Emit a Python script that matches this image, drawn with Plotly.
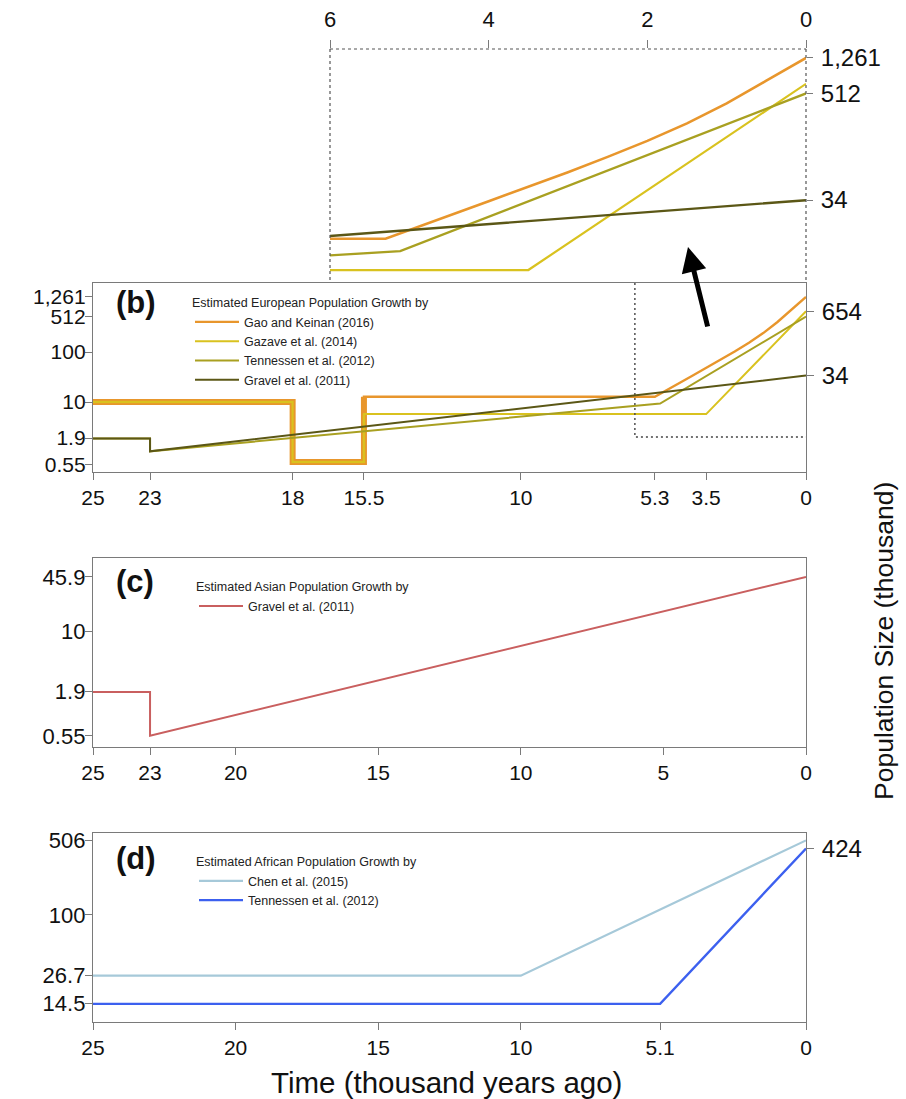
import plotly.graph_objects as go

W, H = 906, 1099
FONT = "Liberation Sans, Arial, sans-serif"

# ---------------- data (time in thousand years ago, size in thousand) -------------
# (b) European
T_GAO = [25, 18, 18, 15.5, 15.5, 5.3, 4, 3, 2.5, 2, 1.5, 1, 0.5, 0]
N_GAO = [10, 10, 0.63, 0.63, 12.7, 12.7, 33, 69, 102, 153, 239, 398, 708, 1261]
T_GAZ = [25, 18, 18, 15.5, 15.5, 3.5, 0]
N_GAZ = [10, 10, 0.63, 0.63, 5.73, 5.73, 654]
T_TEN_EU = [25, 23, 23, 5.115, 0]
N_TEN_EU = [1.861, 1.861, 1.032, 9.279, 512]
T_GRV_EU = [25, 23, 23, 0]
N_GRV_EU = [1.861, 1.861, 1.032, 33.8]
# (c) Asian
T_GRV_AS = [25, 23, 23, 0]
N_GRV_AS = [1.861, 1.861, 0.554, 45.9]
# (d) African
T_CHEN = [25, 10, 0]
N_CHEN = [26.7, 26.7, 506]
T_TEN_AF = [25, 5.115, 0]
N_TEN_AF = [14.474, 14.474, 424]

# tick labels
B_XTICKS = [25, 23, 18, 15.5, 10, 5.3, 3.5, 0]
B_XTEXT = ["25", "23", "18", "15.5", "10", "5.3", "3.5", "0"]
B_YTICKS = [1261, 512, 100, 10, 1.9, 0.55]
B_YTEXT = ["1,261", "512", "100", "10", "1.9", "0.55"]
B_YRIGHT = [654, 34]
B_YRIGHT_TEXT = ["654", "34"]
INSET_XTICKS = [6, 4, 2, 0]
INSET_YTICKS = [1261, 512, 34]
INSET_YTEXT = ["1,261", "512", "34"]
C_XTICKS = [25, 23, 20, 15, 10, 5, 0]
C_YTICKS = [45.9, 10, 1.9, 0.55]
C_YTEXT = ["45.9", "10", "1.9", "0.55"]
D_XTICKS = [25, 20, 15, 10, 5.115, 0]
D_XTEXT = ["25", "20", "15", "10", "5.1", "0"]
D_YTICKS = [506, 100, 26.7, 14.5]
D_YTEXT = ["506", "100", "26.7", "14.5"]
D_YRIGHT = [424]
D_YRIGHT_TEXT = ["424"]
ZOOM_BOX_T = [6, 6, 0]
ZOOM_BOX_N = [10 ** 3.38, 2, 2]

C_GAO = "#e8962c"
C_GAZ = "#d9c21f"
C_TEN = "#a9a021"
C_GRV = "#5b5716"
C_ASIA = "#c95f5f"
C_CHEN = "#a6c9d9"
C_TENAF = "#3c60ef"


def px(x):
    return x / W


def py(y):
    return 1 - y / H


fig = go.Figure()


def line(x, y, color, width, name=None, xa="x", ya="y", legend=None, show=False):
    fig.add_trace(go.Scatter(
        x=x, y=y, mode="lines", name=name, xaxis=xa, yaxis=ya,
        line=dict(color=color, width=width), showlegend=show,
        legend=legend, hoverinfo="skip"))


# panel (b)  (y5 is the right-hand twin of y with the identical range)
line(T_GAO[:5], N_GAO[:5], C_GAO, 6)
line(T_GAZ[:5], N_GAZ[:5], C_GAZ, 2.6)
line(T_GAO, N_GAO, C_GAO, 2.4, "Gao and Keinan (2016)", legend="legend", show=True)
line(T_GAZ, N_GAZ, C_GAZ, 2, "Gazave et al. (2014)", legend="legend", show=True)
line(T_TEN_EU, N_TEN_EU, C_TEN, 2, "Tennessen et al. (2012)", legend="legend", show=True)
line(T_GRV_EU, N_GRV_EU, C_GRV, 2, "Gravel et al. (2011)", ya="y5", legend="legend",
     show=True)
fig.add_trace(go.Scatter(x=ZOOM_BOX_T, y=ZOOM_BOX_N, mode="lines", xaxis="x", yaxis="y",
                         line=dict(color="#444", width=1.4, dash="2px,3px"),
                         showlegend=False, hoverinfo="skip"))

# inset
line(T_GAO, N_GAO, C_GAO, 2.6, xa="x4", ya="y4")
line(T_GAZ, N_GAZ, C_GAZ, 2.2, xa="x4", ya="y4")
line(T_TEN_EU, N_TEN_EU, C_TEN, 2.4, xa="x4", ya="y4")
line(T_GRV_EU, N_GRV_EU, C_GRV, 2.4, xa="x4", ya="y4")

# panel (c)
line(T_GRV_AS, N_GRV_AS, C_ASIA, 2, "Gravel et al. (2011)", xa="x2", ya="y2",
     legend="legend2", show=True)

# panel (d)  (y6 is the right-hand twin of y3 with the identical range)
line(T_CHEN, N_CHEN, C_CHEN, 2.2, "Chen et al. (2015)", xa="x3", ya="y3",
     legend="legend3", show=True)
line(T_TEN_AF, N_TEN_AF, C_TENAF, 2.4, "Tennessen et al. (2012)", xa="x3", ya="y6",
     legend="legend3", show=True)

AX = dict(showgrid=False, zeroline=False, ticks="outside", ticklen=7, automargin=False,
          tickcolor="#7a7a7a", tickwidth=1.4, linecolor="#7a7a7a", linewidth=1.4,
          tickfont=dict(family=FONT, size=21, color="#111"))
XB = dict(AX, showline=True, mirror=True, range=[25, 0])
YB = dict(AX, showline=True, mirror=True, type="log", ticklabelstandoff=-5,
          tickfont=dict(family=FONT, size=22, color="#111"))
YR = dict(AX, showline=False, type="log", side="right", ticklabelstandoff=3,
          tickfont=dict(family=FONT, size=24, color="#111"))

dom_x = [px(93), px(806)]

LEG = dict(xanchor="left", yanchor="top", bgcolor="rgba(0,0,0,0)",
           font=dict(size=12.5, color="#222"), tracegroupgap=0, itemwidth=44)
LT = dict(size=12.5, color="#222")

fig.update_layout(
    width=W, height=H, margin=dict(l=0, r=0, t=0, b=0, autoexpand=False),
    paper_bgcolor="white", plot_bgcolor="white",
    font=dict(family=FONT, color="#111"),
    xaxis=dict(XB, domain=dom_x, anchor="y", tickvals=B_XTICKS, ticktext=B_XTEXT),
    yaxis=dict(YB, domain=[py(472), py(283)], anchor="x", range=[-0.4, 3.38],
               tickvals=B_YTICKS, ticktext=B_YTEXT,
               tickfont=dict(family=FONT, size=21, color="#111")),
    yaxis5=dict(YR, overlaying="y", anchor="x", range=[-0.4, 3.38],
                tickvals=B_YRIGHT, ticktext=B_YRIGHT_TEXT),
    xaxis2=dict(XB, domain=dom_x, anchor="y2", tickvals=C_XTICKS),
    yaxis2=dict(YB, domain=[py(747), py(558)], anchor="x2", range=[-0.394, 1.89],
                tickvals=C_YTICKS, ticktext=C_YTEXT),
    xaxis3=dict(XB, domain=dom_x, anchor="y3", tickvals=D_XTICKS, ticktext=D_XTEXT),
    yaxis3=dict(YB, domain=[py(1022), py(833)], anchor="x3", range=[0.989, 2.774],
                tickvals=D_YTICKS, ticktext=D_YTEXT),
    yaxis6=dict(YR, overlaying="y3", anchor="x3", range=[0.989, 2.774],
                tickvals=D_YRIGHT, ticktext=D_YRIGHT_TEXT),
    xaxis4=dict(AX, showline=False, domain=[px(330), px(806)], anchor="y4", side="top",
                range=[6, 0], tickvals=INSET_XTICKS, ticklen=8, ticklabelstandoff=4,
                tickfont=dict(family=FONT, size=22, color="#111")),
    yaxis4=dict(YR, domain=[py(280), py(49)], anchor="x4", range=[0.648, 3.2],
                tickvals=INSET_YTICKS, ticktext=INSET_YTEXT, ticklen=6),
    legend=dict(LEG, x=px(190), y=py(291),
                title=dict(text="Estimated European Population Growth by", font=LT)),
    legend2=dict(LEG, x=px(194), y=py(575),
                 title=dict(text="Estimated Asian Population Growth by", font=LT)),
    legend3=dict(LEG, x=px(194), y=py(850),
                 title=dict(text="Estimated African Population Growth by", font=LT)),
)

# dotted frame of the inset
for x0, y0, x1, y1 in [(0, 0, 0, 1), (0, 1, 1, 1), (1, 0, 1, 1)]:
    fig.add_shape(type="line", xref="x4 domain", yref="y4 domain",
                  x0=x0, y0=y0, x1=x1, y1=y1,
                  line=dict(color="#555", width=1.2, dash="3px,3px"))

ann = []
for lab, yy in [("(b)", 302), ("(c)", 581), ("(d)", 858)]:
    ann.append(dict(text="<b>%s</b>" % lab, x=px(114), y=py(yy), xref="paper", yref="paper",
                    xanchor="left", yanchor="middle", showarrow=False,
                    font=dict(family=FONT, size=31, color="#111")))
ann.append(dict(text="Time (thousand years ago)", x=px(446), y=py(1082), xref="paper",
                yref="paper", xanchor="center", yanchor="middle", showarrow=False,
                font=dict(family=FONT, size=29.5, color="#111")))
ann.append(dict(text="Population Size (thousand)", x=px(884), y=py(641), xref="paper",
                yref="paper", xanchor="center", yanchor="middle", showarrow=False,
                textangle=-90, font=dict(family=FONT, size=26.5, color="#111")))
ann.append(dict(text="", x=px(688), y=py(247), xref="paper", yref="paper",
                showarrow=True, ax=20, ay=81, arrowhead=2, arrowsize=1,
                arrowwidth=5, arrowcolor="black", standoff=0))
fig.update_layout(annotations=ann)

fig.write_html("out.html", config={"displayModeBar": False},
               post_script="document.body.style.margin='0px';"
                           "document.body.style.overflow='hidden';")
